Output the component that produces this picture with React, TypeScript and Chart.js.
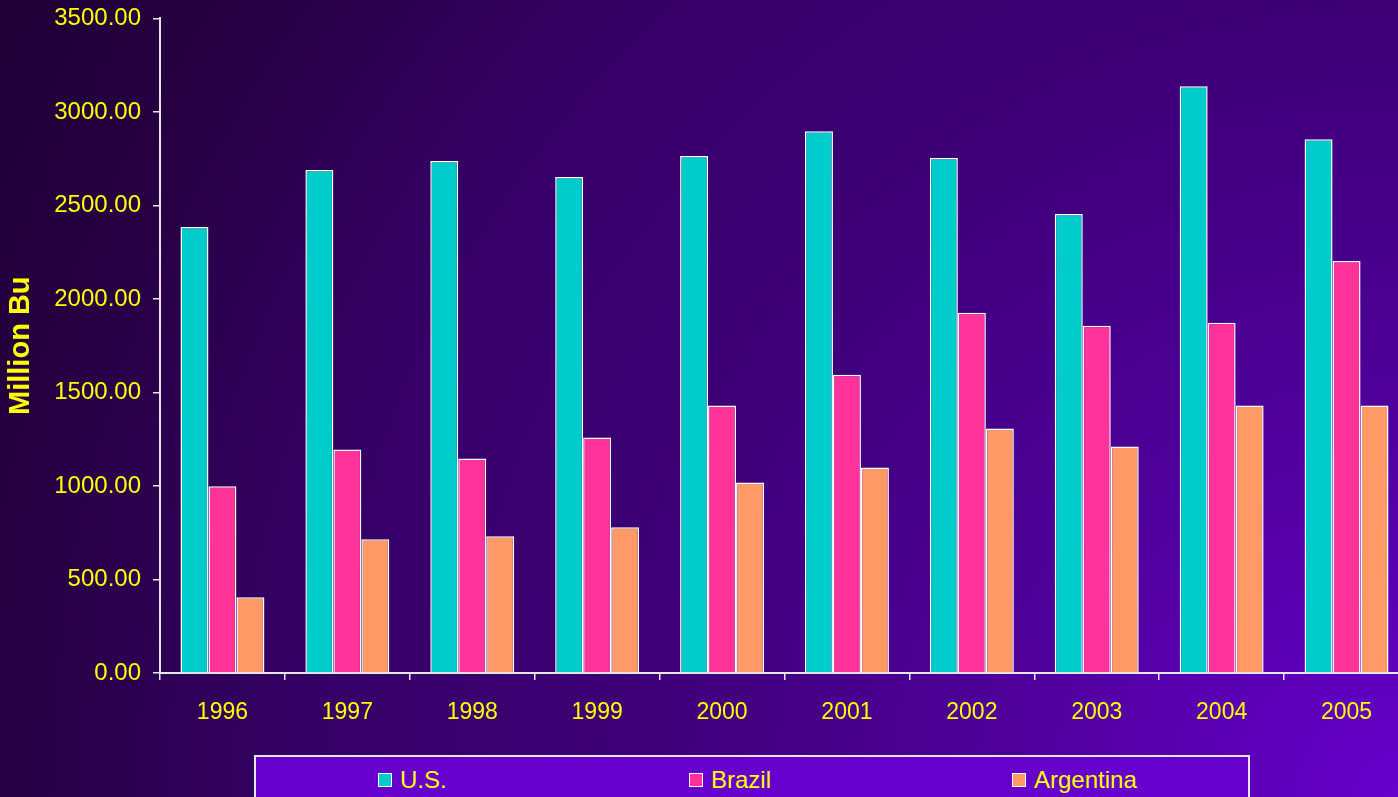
import React, { useEffect, useRef } from "react";
import { Chart, registerables } from "chart.js";

Chart.register(...registerables);

const years = ["1996", "1997", "1998", "1999", "2000", "2001", "2002", "2003", "2004", "2005"];
const usValues = [2385, 2689, 2737, 2652, 2764, 2897, 2753, 2454, 3137, 2854];
const brazilValues = [998, 1195, 1147, 1259, 1430, 1595, 1926, 1857, 1873, 2203];
const argentinaValues = [405, 715, 731, 779, 1019, 1099, 1307, 1211, 1430, 1430];
const seriesNames = ["U.S.", "Brazil", "Argentina"];
const seriesColors = ["#00CCCC", "#FF3399", "#FF9966"];
const yTitle = "Million Bu";

const FONT = "'Liberation Sans', Arial, sans-serif";
const YELLOW = "#FFFF00";
const AXIS = "#E6E6E6";
const legendOffsets = [122, 433, 756];

export default function App() {
  const ref = useRef<HTMLCanvasElement | null>(null);

  useEffect(() => {
    if (!ref.current) return;
    const values = [usValues, brazilValues, argentinaValues];
    const chart = new Chart(ref.current, {
      type: "bar",
      data: {
        labels: years,
        datasets: seriesNames.map((name, i) => ({
          label: name,
          data: values[i],
          backgroundColor: seriesColors[i],
          borderColor: "#FFFFFF",
          borderWidth: 1.5,
          categoryPercentage: 0.672,
          barPercentage: 1,
        })),
      },
      options: {
        responsive: false,
        animation: false,
        layout: { padding: { top: 9, bottom: 64, left: 0, right: 3 } },
        plugins: { legend: { display: false }, tooltip: { enabled: false } },
        scales: {
          x: {
            offset: true,
            grid: {
              display: true,
              drawOnChartArea: false,
              offset: true,
              color: AXIS,
              tickLength: 7,
              lineWidth: 1.5,
            },
            border: { display: true, color: AXIS, width: 2 },
            ticks: { color: YELLOW, font: { family: FONT, size: 23 }, padding: 19, maxRotation: 0 },
            afterFit: (s: any) => {
              s.height = 60;
            },
          },
          y: {
            min: 0,
            max: 3500,
            grid: {
              display: true,
              drawOnChartArea: false,
              color: AXIS,
              tickLength: 7,
              lineWidth: 1.5,
            },
            border: { display: true, color: AXIS, width: 2 },
            ticks: {
              stepSize: 500,
              color: YELLOW,
              font: { family: FONT, size: 24 },
              padding: 12,
              callback: (v: any) => Number(v).toFixed(2),
            },
            title: {
              display: true,
              text: yTitle,
              color: YELLOW,
              font: { family: FONT, size: 29, weight: "bold" },
              padding: { top: 4, bottom: 4 },
            },
            afterFit: (s: any) => {
              s.width = 160;
            },
          },
        },
      },
    });
    return () => chart.destroy();
  }, []);

  return (
    <div
      style={{
        position: "fixed",
        left: 0,
        top: 0,
        width: "1398px",
        height: "797px",
        overflow: "hidden",
        background:
          "radial-gradient(circle farthest-corner at 100% 100%, #6600cc 0%, #4e0099 25%, #3c0074 50%, #360068 66%, #260042 87%, #1e0035 100%)",
      }}
    >
      <canvas ref={ref} width={1412} height={805} style={{ position: "absolute", left: 0, top: "-8px", width: "1412px", height: "805px" }} />
      <div
        style={{
          position: "absolute",
          left: "254px",
          top: "755px",
          width: "996px",
          height: "60px",
          background: "#6600CC",
          border: "2px solid #E6E6E6",
          boxSizing: "border-box",
        }}
      >
        {seriesNames.map((name, i) => (
          <div
            key={name}
            style={{
              position: "absolute",
              left: `${legendOffsets[i]}px`,
              top: "9px",
              display: "flex",
              alignItems: "center",
              fontFamily: FONT,
              fontSize: "24px",
              color: YELLOW,
              lineHeight: "28px",
              whiteSpace: "nowrap",
            }}
          >
            <span
              style={{
                display: "inline-block",
                width: "14px",
                height: "14px",
                background: seriesColors[i],
                border: "1.5px solid #FFFFFF",
                boxSizing: "border-box",
                marginRight: "8px",
              }}
            />
            <span>{name}</span>
          </div>
        ))}
      </div>
    </div>
  );
}
